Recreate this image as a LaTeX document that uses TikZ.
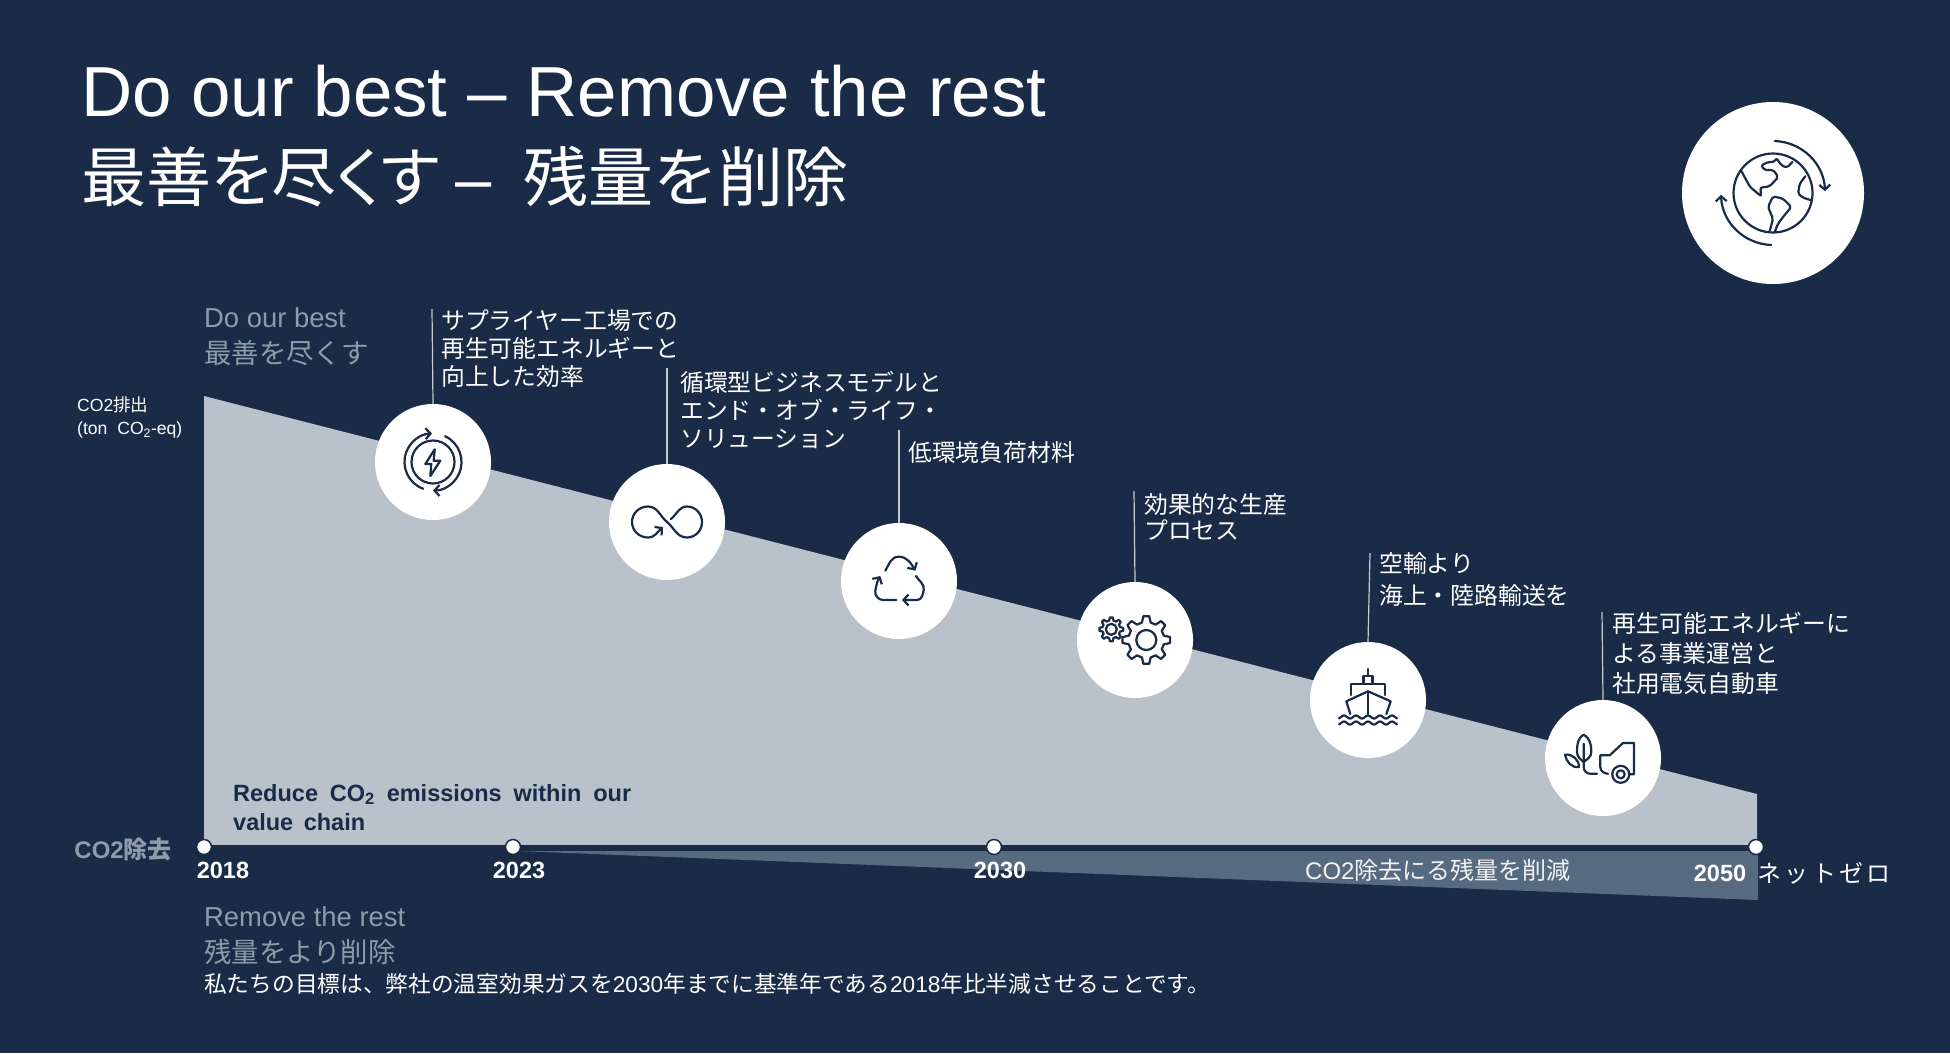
\documentclass[tikz,border=0pt]{standalone}
\usepackage{fontspec}
\setmainfont{Liberation Sans}
\newfontfamily\jpfont{Noto Sans CJK JP}
\usetikzlibrary{positioning, arrows.meta, calc}
\usepackage{xcolor}
\definecolor{navy}{HTML}{1A2B47}
\definecolor{panel}{HTML}{B9C2CB}
\definecolor{wedge}{HTML}{566A80}
\definecolor{mute}{HTML}{8F9BA9}
\definecolor{lead}{HTML}{C4CBD3}
\newcommand{\jp}[1]{{\jpfont #1}}
\newcommand{\fsz}[2]{\fontsize{#1}{#2}\selectfont}
% gear outline: centre, outer radius, root radius
\newcommand{\drawgear}[4]{%
  \draw[icoline] ($(#1,#2)+(-7:#3)$)
    \foreach \a in {0,45,...,315} { -- ($(#1,#2)+({\a-7}:#3)$) -- ($(#1,#2)+({\a+7}:#3)$) -- ($(#1,#2)+({\a+14}:#4)$) -- ($(#1,#2)+({\a+31}:#4)$) } -- cycle;}

\begin{document}
\begin{tikzpicture}[
    x=1pt, y=-1pt,
    iconcirc/.style={circle, fill=white, minimum size=116pt, inner sep=0pt},
    yeardot/.style={circle, fill=white, draw=navy, line width=1.5pt, minimum size=15pt, inner sep=0pt},
    icoline/.style={draw=navy, line width=2.2pt, line join=round, line cap=round},
    icotip/.style={-{Straight Barb[length=5pt,width=11pt]}},
    lbl/.style={text=white, align=left, inner sep=0pt, font=\jpfont\fsz{23.8}{28}},
    mutelbl/.style={text=mute, align=left, inner sep=0pt, anchor=north west, font=\fsz{27.4}{36}},
    yearlbl/.style={text=white, inner sep=0pt, font=\bfseries\fsz{23.5}{28}},
    leadline/.style={draw=lead, line width=1.2pt}
]
    \fill[navy] (0,0) rectangle (1950,1053);
    \useasboundingbox (0,0) rectangle (1950,1053);

    % chart areas
    \fill[panel] (204,396) -- (1757,794) -- (1757,847) -- (204,847) -- cycle;
    \fill[wedge] (518,851) -- (1758,851) -- (1758,900) -- cycle;

    % title
    \node[text=white, anchor=base west, inner sep=0pt, font=\fsz{70.9}{80}] (title) at (81,116) {Do our best -- Remove the rest};
    \node[text=white, anchor=base west, inner sep=0pt, font=\fsz{65}{70}] (subtitle) at (81,201) {{\jpfont\addfontfeatures{RawFeature=+palt}最善を尽くす}\hspace{16pt}–\hspace{14pt} \jp{残量を削除}};

    % timeline
    \node[yeardot] (y2018) at (204,847) {};
    \node[yeardot] (y2023) at (513,847) {};
    \node[yeardot] (y2030) at (994,847) {};
    \node[yeardot] (y2050) at (1756,847) {};
    \draw[navy, line width=4pt] (y2018) -- (y2023);
    \draw[navy, line width=4pt] (y2023) -- (y2030);
    \draw[navy, line width=4pt] (y2030) -- (y2050);
    \node[yearlbl] (t2018) at (223,870) {2018};
    \node[yearlbl] (t2023) at (519,870) {2023};
    \node[yearlbl] (t2030) at (1000,870) {2030};
    \node[yearlbl] (t2050) at (1720,873) {2050};
    \node[text=white, inner sep=0pt, font=\jpfont\fsz{24}{28}, right=11pt of t2050] (netzero) {\addfontfeatures{LetterSpace=14}ネットゼロ};
    \node[text=white!92!wedge, inner sep=0pt, anchor=west, font=\fsz{24}{28}] (rest) at (1305,870) {CO2\jp{除去にる残量を削減}};
    \node[text=mute, inner sep=0pt, anchor=east, font=\bfseries\fsz{24}{28}] (co2rem) at (172,849) {CO2\jp{除去}};

    % side texts
    \node[mutelbl] (best) at (204,307) {Do our best\\\jp{最善を尽くす}};
    \node[mutelbl] (remove) at (204,906) {Remove the rest\\\jp{残量をより削除}};
    \node[text=white, inner sep=0pt, anchor=west, font=\fsz{22.7}{28}] (goal) at (204,984) {\jp{私たちの目標は、弊社の温室効果ガスを}2030\jp{年までに基準年である}2018\jp{年比半減させることです。}};
    \node[text=white, align=left, inner sep=0pt, anchor=north west, font=\fsz{17.6}{22.5}] (co2out) at (77,397) {CO2\jp{排出}\\(ton\ \ CO\textsubscript{2}-eq)};
    \node[text=navy, align=left, inner sep=0pt, anchor=north west, font=\bfseries\fsz{23.5}{29}] (reduce) at (233,784) {\makebox[398pt][s]{Reduce CO\textsubscript{2} emissions within our}\\\makebox[132pt][s]{value chain}};

    % milestones
    \node[iconcirc] (renew) at (433,462) {};
    \node[iconcirc] (circular) at (667,522) {};
    \node[iconcirc] (recycle) at (899,581) {};
    \node[iconcirc] (gears) at (1135,640) {};
    \node[iconcirc] (ship) at (1368,700) {};
    \node[iconcirc] (evcar) at (1603,758) {};
    \node[iconcirc, minimum size=182pt] (globe) at (1773,193) {};

    \coordinate (topa) at (432,309);
    \coordinate (topb) at (667,368);
    \coordinate (topc) at (899,430);
    \coordinate (topd) at (1134,491);
    \coordinate (tope) at (1370,553);
    \coordinate (topf) at (1602,612);
    \draw[leadline] (renew.north) -- (topa);
    \draw[leadline] (circular.north) -- (topb);
    \draw[leadline] (recycle.north) -- (topc);
    \draw[leadline] (gears.north) -- (topd);
    \draw[leadline] (ship.north) -- (tope);
    \draw[leadline] (evcar.north) -- (topf);

    \node[lbl, below right=0pt and 9pt of topa] (laba) {サプライヤー工場での\\再生可能エネルギーと\\向上した効率};
    \node[lbl, below right=3pt and 13pt of topb] (labb) {循環型ビジネスモデルと\\エンド・オブ・ライフ・\\ソリューション};
    \node[lbl, below right=11pt and 9pt of topc] (labc) {低環境負荷材料};
    \node[lbl, below right=2pt and 10pt of topd, font=\jpfont\fsz{23.8}{26}] (labd) {効果的な生産\\プロセス};
    \node[lbl, below right=-1pt and 9pt of tope, font=\jpfont\fsz{23.8}{32}] (labe) {空輸より\\海上・陸路輸送を};
    \node[lbl, below right=0pt and 10pt of topf, font=\jpfont\fsz{23.8}{30}] (labf) {再生可能エネルギーに\\よる事業運営と\\社用電気自動車};

    % icons
    \begin{scope}[shift={(renew.center)}, y=1pt, icoline]
      \draw (0,0) circle (21.5);
      \draw[icotip] (250:28.5) arc[start angle=250, end angle=92, radius=28.5];
      \draw[icotip] (65:28.5) arc[start angle=65, end angle=-90, radius=28.5];
      \draw (1.7,12.7) -- (-7.7,-2) -- (-1.7,-2) -- (-2.7,-14) -- (7.3,1.3) -- (0.7,1.3) -- cycle;
    \end{scope}
    \begin{scope}[shift={(circular.center)}, y=1pt, icoline]
      \draw[icotip] (4,3) to[out=40,in=180] (20,15.5) to[out=0,in=90] (35,0) to[out=-90,in=0] (20,-15.5) to[out=180,in=-40] (0,0) to[out=140,in=0] (-19,15.5) to[out=180,in=90] (-35,0) to[out=-90,in=180] (-19,-15.5) to[out=0,in=-140] (-4,-5);
    \end{scope}
    \begin{scope}[shift={(recycle.center)}, y=1pt, icoline]
      \draw[icotip] (-13.7,10.3) to[out=60,in=180] (-0.3,24.3) to[out=0,in=120] (16.3,10.3);
      \draw[icotip] (-2.7,-19) -- (-15.7,-19) to[out=180,in=-100] (-23.7,-10) to[out=80,in=-120] (-18.7,5);
      \draw[icotip] (17,5) to[out=-60,in=80] (24.7,-9) to[out=-100,in=0] (18,-19) -- (3,-19);
    \end{scope}
    \begin{scope}[shift={(gears.center)}, y=1pt]
      \drawgear{11.3}{0}{24}{18}
      \draw[icoline] (11.3,0) circle (10);
      \drawgear{-23.7}{10.7}{12}{9}
      \draw[icoline] (-23.7,10.7) circle (5.5);
    \end{scope}
    \begin{scope}[shift={(ship.center)}, y=1pt, icoline]
      \draw (0,31) -- (0,24);
      \draw (-4.5,17.5) -- (-4.5,24) -- (4.5,24) -- (4.5,17.5);
      \draw (-16.7,5) -- (-16.7,16) -- (17.3,16) -- (17.3,5);
      \draw (-17.7,-14) -- (-21.7,-1.3) -- (0,8.7) -- (22.7,-1.3) -- (18.3,-14);
      \draw (0,8.7) -- (0,-14);
      \draw plot[domain=-29:29, samples=60] (\x,{-17+1.5*cos(\x*30)});
      \draw plot[domain=-29:29, samples=60] (\x,{-23+1.5*cos(\x*30)});
    \end{scope}
    \begin{scope}[shift={(evcar.center)}, y=1pt, icoline]
      \draw (-19.3,23.3) to[out=-30,in=90] (-11.7,6) to[out=-90,in=40] (-19.3,-4) to[out=140,in=-90] (-26,6) to[out=90,in=-150] cycle;
      \draw (-19.3,14.3) -- (-19.3,-9) to[out=-90,in=180] (-13,-15.7) -- (-6,-15.7);
      \draw (-38,3.3) to[out=10,in=90] (-24,-9) to[out=190,in=-80] cycle;
      \draw (5,-15.7) to[out=180,in=-90] (-2.7,-9) -- (-2.7,2.7) -- (6.7,2.7) -- (20,15) -- (31,15) -- (31,-16.3) -- (27,-16.3);
      \draw (17.7,-16.3) circle (8.5);
      \draw (17.7,-16.3) circle (4);
    \end{scope}
    \begin{scope}[shift={(globe.center)}, y=1pt, icoline]
      \draw (0,0) circle (39.5);
      \draw[icotip] (88:52) arc[start angle=88, end angle=2, radius=52];
      \draw[icotip] (268:52) arc[start angle=268, end angle=182, radius=52];
      \draw[rounded corners=2pt] (-31.7,22) -- (-23,6) -- (-11.7,-3.3) -- (-12.7,5.3) -- (-3.3,6.7) -- (5.3,16) -- (0,23.3) -- (-8.3,22.7) -- (-11.7,27.7) -- (-5,31) -- (1.7,31) -- (3.3,35) -- (8.3,27.7) -- (14,25.3) -- (19.3,31);
      \draw[rounded corners=2pt] (-3.3,-38) -- (0,-25.7) -- (-5,-14) -- (0,-3.3) -- (10,-5.7) -- (18.3,-14) -- (10,-24) -- (5,-30.7) -- (1.7,-39);
      \draw[rounded corners=2pt] (32.3,16.7) -- (26.7,9.3) -- (25,-0.7) -- (30,-4.7) -- (38.3,-7.3);
    \end{scope}
\end{tikzpicture}
\end{document}
